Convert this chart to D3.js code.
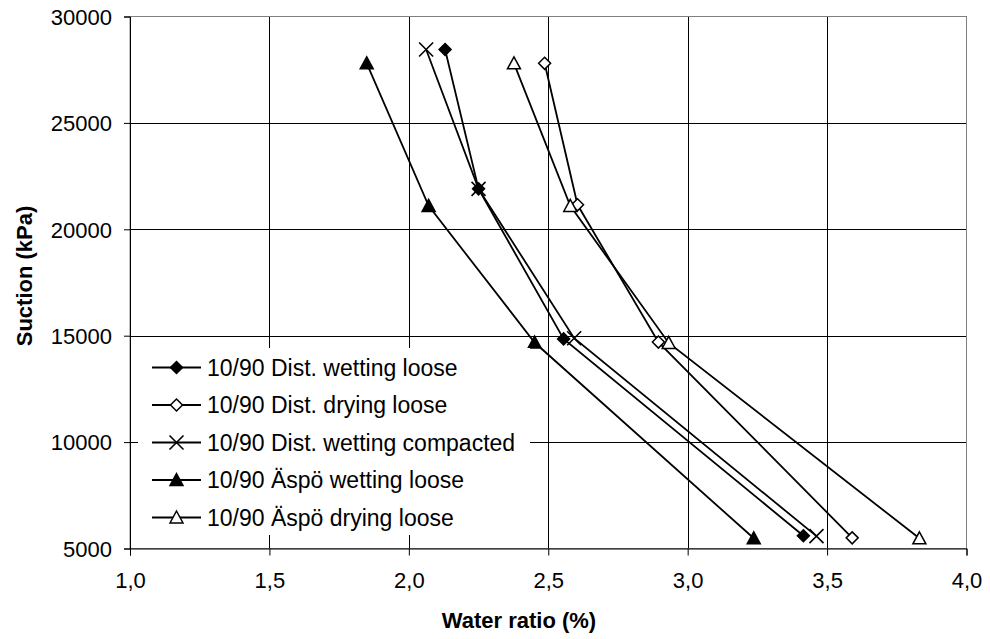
<!DOCTYPE html>
<html><head><meta charset="utf-8">
<script src="https://cdn.jsdelivr.net/npm/d3@7"></script>
<style>body{margin:0;background:#fff}svg{display:block}text{font-family:"Liberation Sans",Arial,sans-serif}</style>
</head><body>
<svg id="c" width="990" height="639"></svg>
<script>
const seriesNames = ["10/90 Dist. wetting loose","10/90 Dist. drying loose","10/90 Dist. wetting compacted","10/90 Äspö wetting loose","10/90 Äspö drying loose"];
const markerTypes = ["diamondFilled","diamondOpen","cross","triangleFilled","triangleOpen"];
const distWettingLooseX = [2.13, 2.25, 2.555, 3.415];
const distWettingLooseY = [28450, 21900, 14850, 5600];
const distDryingLooseX = [2.487, 2.605, 2.895, 3.59];
const distDryingLooseY = [27800, 21150, 14700, 5500];
const distWettingCompX = [2.062, 2.25, 2.593, 3.462];
const distWettingCompY = [28450, 21900, 14880, 5580];
const aspoWettingLooseX = [1.849, 2.071, 2.451, 3.237];
const aspoWettingLooseY = [27800, 21100, 14680, 5480];
const aspoDryingLooseX = [2.377, 2.579, 2.932, 3.831];
const aspoDryingLooseY = [27800, 21100, 14660, 5480];
const xTicks = [1.0, 1.5, 2.0, 2.5, 3.0, 3.5, 4.0];
const yTicks = [5000, 10000, 15000, 20000, 25000, 30000];
const xTitle = "Water ratio (%)";
const yTitle = "Suction (kPa)";

const xs = [distWettingLooseX, distDryingLooseX, distWettingCompX, aspoWettingLooseX, aspoDryingLooseX];
const ys = [distWettingLooseY, distDryingLooseY, distWettingCompY, aspoWettingLooseY, aspoDryingLooseY];
const series = seriesNames.map((n,i)=>({name:n, marker:markerTypes[i], pts: xs[i].map((x,j)=>({x, y: ys[i][j]}))}));

const svg = d3.select("#c");
const L=130, R=966.5, T=16.5, B=548.5;
const x = d3.scaleLinear().domain([1,4]).range([L,R]);
const y = d3.scaleLinear().domain([5000,30000]).range([B,T]);
const FS_TICK = 22, FS_LEG = 23, FS_TITLE = 22;

// gridlines
const g = svg.append("g");
g.selectAll("line.vg").data(xTicks.filter(t=>t>1 && t<4)).join("line")
  .attr("x1",d=>Math.round(x(d))+0.5).attr("x2",d=>Math.round(x(d))+0.5).attr("y1",T).attr("y2",B)
  .attr("stroke","#000").attr("stroke-width",1);
g.selectAll("line.hg").data(yTicks.filter(t=>t>5000 && t<30000)).join("line")
  .attr("y1",d=>Math.round(y(d))+0.5).attr("y2",d=>Math.round(y(d))+0.5).attr("x1",L).attr("x2",R)
  .attr("stroke","#000").attr("stroke-width",1);
// plot border
svg.append("rect").attr("x",L).attr("y",T).attr("width",R-L).attr("height",B-T)
  .attr("fill","none").attr("stroke","#808080").attr("stroke-width",1);

// axes
const xAxis = d3.axisBottom(x).tickValues(xTicks).tickSize(7).tickPadding(17)
  .tickFormat(d=>d3.format(".1f")(d).replace(".",","));
const gx = svg.append("g").attr("transform",`translate(0,${B})`).call(xAxis);
const yAxis = d3.axisLeft(y).tickValues(yTicks).tickSize(6).tickPadding(12).tickFormat(d=>String(d));
const gy = svg.append("g").attr("transform",`translate(${L},0)`).call(yAxis);
[gx,gy].forEach(a=>{
  a.select(".domain").attr("stroke","#000").attr("stroke-width",1);
  a.selectAll(".tick line").attr("stroke","#000");
  a.selectAll("text").attr("font-size",FS_TICK).attr("fill","#000").style("font-family",'"Liberation Sans",Arial,sans-serif');
});
gy.selectAll(".tick text").attr("dy","0.35em");

// titles
svg.append("text").attr("x",519).attr("y",628).attr("text-anchor","middle")
  .attr("font-size",FS_TITLE).attr("font-weight","bold").text(xTitle);
svg.append("text").attr("transform",`translate(32,276) rotate(-90)`).attr("text-anchor","middle")
  .attr("font-size",FS_TITLE).attr("font-weight","bold").text(yTitle);

// markers
function drawMarker(sel, type){
  const s=6;
  if(type.startsWith("diamond")){
    sel.append("path").attr("d",`M0,${-s}L${s},0L0,${s}L${-s},0Z`)
      .attr("fill", type==="diamondFilled"?"#000":"#fff").attr("stroke","#000").attr("stroke-width",1.5);
  } else if(type.startsWith("triangle")){
    sel.append("path").attr("d",`M0,${-6.5}L${6.5},${5.5}L${-6.5},${5.5}Z`)
      .attr("fill", type==="triangleFilled"?"#000":"#fff").attr("stroke","#000").attr("stroke-width",1.5);
  } else {
    sel.append("path").attr("d",`M-7,-7L7,7M-7,7L7,-7`).attr("stroke","#000").attr("stroke-width",1.6).attr("fill","none");
  }
}

const line = d3.line().x(d=>x(d.x)).y(d=>y(d.y));
const sg = svg.append("g");
series.forEach(s=>{
  sg.append("path").attr("d",line(s.pts)).attr("fill","none").attr("stroke","#000").attr("stroke-width",1.8);
});
series.forEach(s=>{
  s.pts.forEach(p=>{
    const m = sg.append("g").attr("transform",`translate(${x(p.x)},${y(p.y)})`);
    drawMarker(m, s.marker);
  });
});

// legend
const lg = svg.append("g");
lg.append("rect").attr("x",138).attr("y",348).attr("width",392).attr("height",187).attr("fill","#fff");
series.forEach((s,i)=>{
  const yy = 367.5 + i*37.5;
  lg.append("line").attr("x1",152).attr("x2",201).attr("y1",yy).attr("y2",yy).attr("stroke","#000").attr("stroke-width",1.8);
  drawMarker(lg.append("g").attr("transform",`translate(176.5,${yy})`), s.marker);
  lg.append("text").attr("x",207).attr("y",yy).attr("dy","0.35em").attr("font-size",FS_LEG).text(s.name);
});
</script>
</body></html>
